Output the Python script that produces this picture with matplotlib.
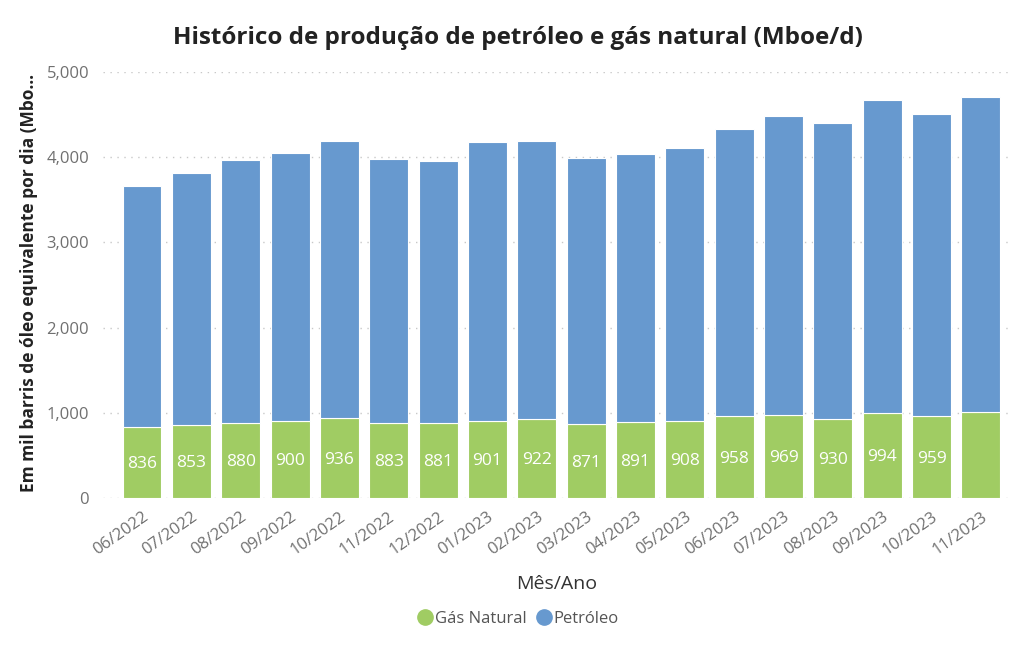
import matplotlib.pyplot as plt
from matplotlib.ticker import FuncFormatter
from matplotlib.lines import Line2D

plt.rcParams['font.family'] = ['Open Sans', 'DejaVu Sans']

months = ['06/2022', '07/2022', '08/2022', '09/2022', '10/2022', '11/2022',
          '12/2022', '01/2023', '02/2023', '03/2023', '04/2023', '05/2023',
          '06/2023', '07/2023', '08/2023', '09/2023', '10/2023', '11/2023']
gas = [836, 853, 880, 900, 936, 883, 881, 901, 922, 871, 891, 908,
       958, 969, 930, 994, 959, 1013]
oil = [2829, 2965, 3091, 3149, 3251, 3100, 3078, 3277, 3265, 3120, 3143, 3204,
       3369, 3515, 3467, 3673, 3548, 3690]
# the last gas value has no label in the source chart
show_label = [True] * 17 + [False]

GREEN = '#A0CC63'
BLUE = '#6799CF'
GREY = '#707070'


def plot_bars():
    fig = plt.figure(figsize=(10.24, 6.53), dpi=100)
    ax = fig.add_axes([0.1006, 0.2374, 0.8877, 0.6524])
    x = list(range(len(months)))
    ax.bar(x, gas, width=0.79, color=GREEN, edgecolor='white', lw=0.8, zorder=3)
    ax.bar(x, oil, bottom=gas, width=0.79, color=BLUE, edgecolor='white', lw=0.8, zorder=3)

    for i in x:
        if show_label[i]:
            ax.text(i, gas[i] / 2 - 20, str(gas[i]), ha='center', va='center',
                    color='white', fontsize=12.5, zorder=4)

    ax.set_xlim(-0.79, 17.63)
    ax.set_ylim(0, 5000)
    ax.set_yticks([0, 1000, 2000, 3000, 4000, 5000])
    ax.yaxis.set_major_formatter(FuncFormatter(lambda v, p: f'{int(v):,}'))
    ax.grid(axis='y', color='#C8C8C8', ls=(0, (1, 4)), lw=1, zorder=0)
    for s in ax.spines.values():
        s.set_visible(False)
    ax.tick_params(length=0, colors=GREY, labelsize=12)
    ax.tick_params(axis='y', pad=10)
    ax.set_xticks(x)
    ax.set_xticklabels(months, rotation=35, ha='right', rotation_mode='anchor')
    ax.tick_params(axis='x', pad=8)

    fig.text(0.506, 0.942, 'Histórico de produção de petróleo e gás natural (Mboe/d)',
             ha='center', va='center', fontsize=17.5, fontweight='bold', color='#222222')
    fig.text(0.028, 0.567, 'Em mil barris de óleo equivalente por dia (Mbo…',
             rotation=90, ha='center', va='center', fontsize=12.5,
             fontweight='bold', color='#222222')
    fig.text(0.544, 0.106, 'Mês/Ano', ha='center', va='center', fontsize=14, color='#333333')

    handles = [Line2D([], [], marker='o', ls='', color=GREEN, markersize=11),
               Line2D([], [], marker='o', ls='', color=BLUE, markersize=11)]
    fig.legend(handles, ['Gás Natural', 'Petróleo'], loc='center',
               bbox_to_anchor=(0.505, 0.052), ncol=2, frameon=False,
               fontsize=12, handletextpad=0.0, columnspacing=0.4,
               handlelength=1.2, labelcolor='#555555')

    fig.savefig('out.png', dpi=100)


if __name__ == '__main__':
    plot_bars()
